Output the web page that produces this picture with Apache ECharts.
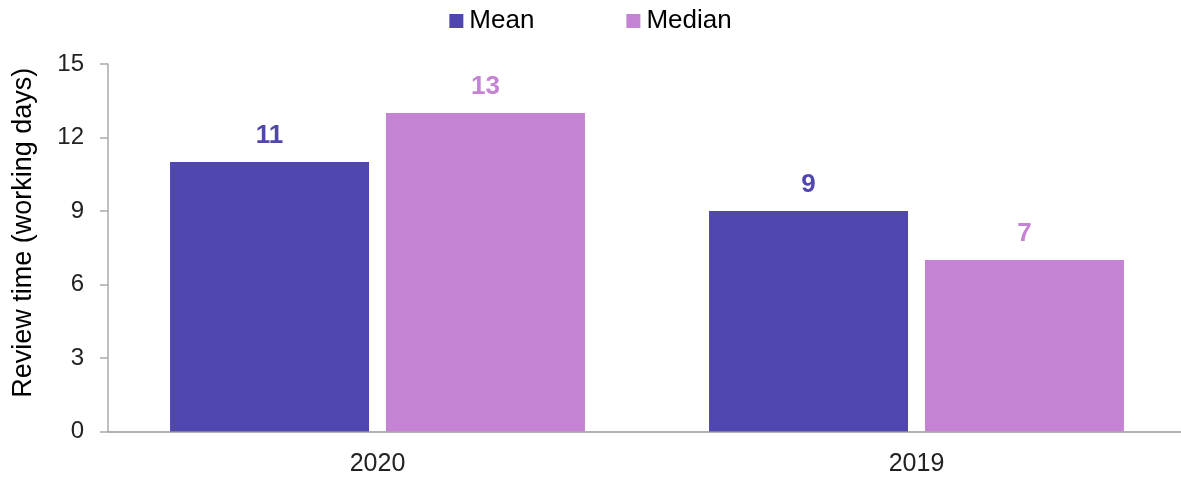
<!DOCTYPE html>
<html><head><meta charset="utf-8">
<script src="https://cdn.jsdelivr.net/npm/echarts@6/dist/echarts.min.js"></script>
<style>html,body{margin:0;padding:0;background:#fff}#c{width:1181px;height:477px}</style>
</head><body><div id="c"></div>
<script>
const categories = ['2020', '2019'];
const meanValues = [11, 9];
const medianValues = [13, 7];
const yTicks = [0, 3, 6, 9, 12, 15];

const font = '"Liberation Sans", Arial, sans-serif';
const chart = echarts.init(document.getElementById('c'));
chart.setOption({
  animation: false,
  textStyle: { fontFamily: font },
  legend: {
    top: 3, left: 'center', itemWidth: 14, itemHeight: 14, itemGap: 92,
    icon: 'rect',
    textStyle: { fontSize: 26, color: '#000', fontFamily: font, padding: [0, 0, 0, 1] },
    data: ['Mean', 'Median']
  },
  grid: { left: 108, right: -5, top: 64, bottom: 45.5, outerBoundsMode: 'none', containLabel: false },
  xAxis: {
    type: 'category', data: categories,
    axisLine: { lineStyle: { color: '#999', width: 1.5 } },
    axisTick: { show: false },
    axisLabel: { fontSize: 25, color: '#222', margin: 20, fontFamily: font }
  },
  yAxis: {
    type: 'value', min: yTicks[0], max: yTicks[yTicks.length - 1], interval: 3,
    name: 'Review time (working days)', nameLocation: 'middle', nameGap: 71,
    nameTextStyle: { fontSize: 27, color: '#000', fontFamily: font, padding: [0, 0, 0, 30] },
    axisLine: { show: true, lineStyle: { color: '#aaa', width: 1.5 } },
    axisTick: { show: true, length: 8, lineStyle: { color: '#aaa', width: 1.5 } },
    splitLine: { show: false },
    axisLabel: { fontSize: 24, color: '#222', margin: 24, fontFamily: font }
  },
  series: [
    { name: 'Mean', type: 'bar', data: meanValues, barWidth: 199, barGap: '8.5%',
      itemStyle: { color: '#5046B0' },
      label: { show: true, position: 'top', distance: 13, fontSize: 26, fontWeight: 'bold', color: '#5046B0', fontFamily: font } },
    { name: 'Median', type: 'bar', data: medianValues, barWidth: 199,
      itemStyle: { color: '#C583D3' },
      label: { show: true, position: 'top', distance: 13, fontSize: 26, fontWeight: 'bold', color: '#C583D3', fontFamily: font } }
  ]
});
</script></body></html>
